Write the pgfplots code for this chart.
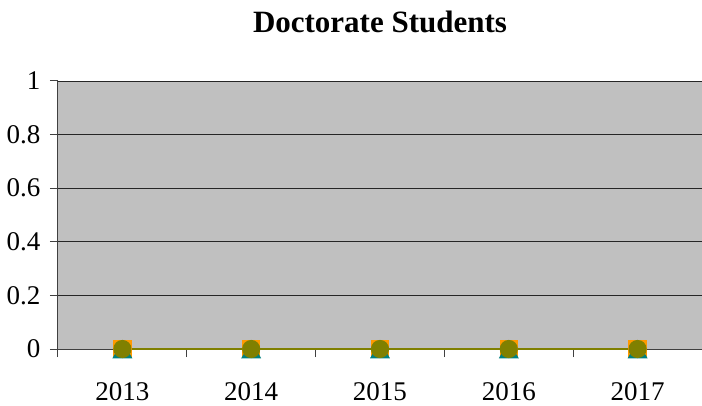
\documentclass[border=0pt]{standalone}
\usepackage{fontspec}
\setmainfont{Liberation Serif}
\usepackage{pgfplots}
\pgfplotsset{compat=1.18}

\definecolor{plotgray}{HTML}{C0C0C0}
\definecolor{xlorange}{HTML}{FF9900}
\definecolor{xlteal}{HTML}{008080}
\definecolor{xlolive}{HTML}{808000}

\begin{document}
\begin{tikzpicture}
  \useasboundingbox (-58bp,-57bp) rectangle (644bp,349bp);
  \begin{axis}[
      scale only axis,
      width=644bp, height=268bp,
      xmin=-0.5, xmax=4.5,
      ymin=0, ymax=1,
      axis x line*=bottom,
      axis y line*=left,
      axis line style={black!75, line width=1bp},
      axis background/.style={fill=plotgray},
      xtick={0,1,2,3,4},
      xticklabels={2013,2014,2015,2016,2017},
      major x tick style={draw=none},
      minor xtick={-0.5,0.5,1.5,2.5,3.5},
      minor x tick style={black!75, line width=1bp},
      minor tick length=8bp,
      ytick={0,0.2,...,1},
      yticklabels={0,0.2,0.4,0.6,0.8,1},
      major y tick style={black!75, line width=1bp},
      major tick length=8bp,
      tick align=outside,
      ymajorgrids,
      y grid style={black!85, line width=0.9bp},
      tick label style={font=\fontsize{27bp}{30bp}\selectfont},
      xticklabel style={anchor=base, yshift=-43bp},
      yticklabel style={xshift=-6bp},
      /pgf/number format/assume math mode=true,
      title={\fontsize{31bp}{34bp}\selectfont\bfseries Doctorate Students},
      title style={at={(0.5,1)}, anchor=base, yshift=43bp},
      clip=false,
    ]
    % series drawn bottom to top, all values zero
    \addplot[draw=xlorange, line width=2.5bp, mark=square*, mark size=8bp,
      mark options={fill=xlorange, draw=xlorange}]
      coordinates {(0,0) (1,0) (2,0) (3,0) (4,0)};
    \addplot[draw=xlteal, line width=2.5bp, mark=triangle*, mark size=9bp,
      mark options={fill=xlteal, draw=xlteal, yshift=-3.5bp}]
      coordinates {(0,0) (1,0) (2,0) (3,0) (4,0)};
    \addplot[draw=xlolive, line width=2.5bp, mark=*, mark size=7.8bp,
      mark options={fill=xlolive, draw=xlolive}]
      coordinates {(0,0) (1,0) (2,0) (3,0) (4,0)};
  \end{axis}
\end{tikzpicture}
\end{document}
